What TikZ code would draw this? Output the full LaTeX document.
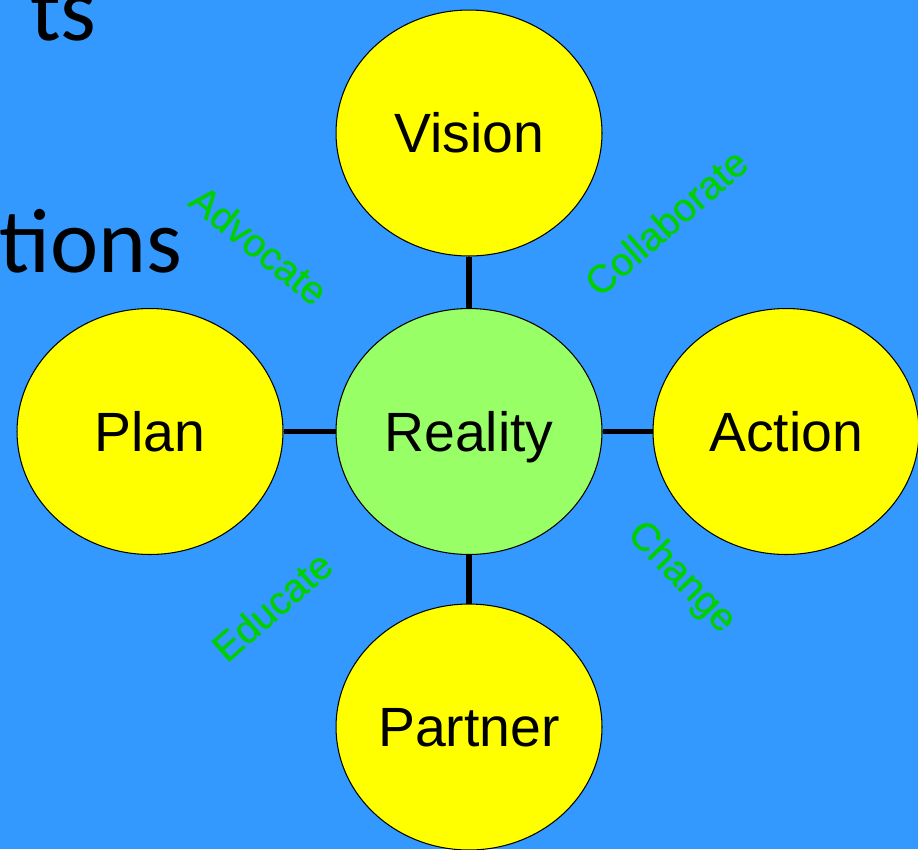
\documentclass[tikz,border=0pt]{standalone}
\usepackage{fontspec}
\setmainfont{Liberation Sans}
\newfontfamily\slidefont{Carlito}
\newfontfamily\lblfont{Liberation Sans}[FakeBold=0.9]
\usetikzlibrary{shapes.geometric}
\definecolor{bg}{HTML}{3399FF}
\definecolor{yel}{HTML}{FFFF00}
\definecolor{lgreen}{HTML}{99FF66}
\definecolor{lab}{HTML}{00D000}
\begin{document}
\begin{tikzpicture}[x=0.02cm,y=-0.02cm,
  bubble/.style={ellipse, draw=black, line width=0.6pt, fill=yel, inner sep=0pt,
     minimum width=5.32cm, minimum height=4.92cm, text height=22.6pt, text depth=0pt,
     font=\fontsize{31.5}{36}\selectfont},
  link/.style={line width=3.2pt, black},
  lbl/.style={text=lab, font=\lblfont\fontsize{22.3}{25}\selectfont, inner sep=0pt},
  slide/.style={font=\slidefont\fontsize{52}{60}\selectfont, inner sep=0pt, text=black}]
\fill[bg] (0,0) rectangle (918,849);
\useasboundingbox (0,0) rectangle (918,849);
\clip (0,0) rectangle (918,849);
\node[slide, anchor=base east] (ts) at (97,40) {ts};
\node[slide, anchor=base east] (tions) at (183,272) {tions};
\node[bubble] (vision) at (469,133) {Vision};
\node[bubble, fill=lgreen] (reality) at (469,431.5) {Reality};
\node[bubble] (plan) at (150,431.5) {Plan};
\node[bubble] (action) at (786,431.5) {Action};
\node[bubble] (partner) at (469,727) {Partner};
\draw[link] (vision) -- (reality);
\draw[link] (reality) -- (partner);
\draw[link] (plan) -- (reality);
\draw[link] (reality) -- (action);
\node[lbl, rotate=-39] (advocate) at (259,245) {Advocate};
\node[lbl, rotate=41] (collaborate) at (666,222) {Collaborate};
\node[lbl, rotate=41] (educate) at (272,606) {Educate};
\node[lbl, rotate=-46] (change) at (681,578) {Change};
\end{tikzpicture}
\end{document}
